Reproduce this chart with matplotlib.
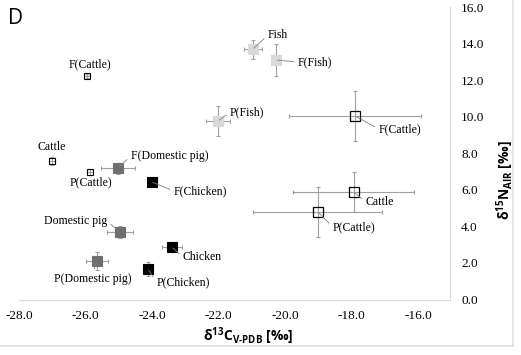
import matplotlib
matplotlib.use('Agg')
import matplotlib.pyplot as plt
from matplotlib.lines import Line2D

# isotope data
labels = ["Fish", "F(Fish)", "P(Fish)", "F(Cattle)", "F(Cattle)", "Cattle", "P(Cattle)",
          "F(Domestic pig)", "F(Chicken)", "Domestic pig", "Chicken", "P(Domestic pig)",
          "P(Chicken)", "Cattle", "P(Cattle)"]
kind = ["fish", "fish", "fish", "cattle_s", "cattle", "cattle_s", "cattle_s",
        "pig", "chicken", "pig", "chicken", "pig", "chicken", "cattle", "cattle"]
d13c = [-20.97, -20.28, -22.02, -25.96, -17.91, -27.01, -25.87,
        -25.03, -24.01, -24.97, -23.41, -25.66, -24.13, -17.94, -19.02]
d13c_err = [0.27, 0.0, 0.36, 0.1, 1.98, 0.1, 0.1,
            0.51, 0.1, 0.39, 0.3, 0.32, 0.1, 1.82, 1.94]
d15n = [13.70, 13.10, 9.76, 12.23, 10.04, 7.58, 6.97,
        7.19, 6.43, 3.69, 2.87, 2.11, 1.67, 5.88, 4.79]
d15n_err = [0.52, 0.85, 0.82, 0.1, 1.37, 0.2, 0.15,
            0.3, 0.1, 0.35, 0.15, 0.49, 0.4, 1.12, 1.37]

xticks = [-28, -26, -24, -22, -20, -18, -16]
yticks = [0, 2, 4, 6, 8, 10, 12, 14, 16]

# label placement (pixel offsets from the point), alignment, leader line start
lab_pos = [(15, 14, 'left', (0, 0.5)), (22, -2, 'left', (0, 0.5)), (12, 9, 'left', (0, 0.5)),
           (3, 12, 'center', None), (24, -13, 'left', (0, 0.5)), (0, 14, 'center', None),
           (1, -10, 'center', None), (13, 12, 'left', (0, 0.5)), (22, -9, 'left', (0, 0.5)),
           (-13, 11, 'right', (1, 0.5)), (11, -10, 'left', (0, 0.5)), (-4, -18, 'center', (0.5, 1)),
           (9, -13, 'left', (0, 0.5)), (12, -10, 'left', (0, 0.5)), (15, -15, 'left', (0, 0.5))]

styles = {
    "fish": dict(mfc='#d9d9d9', mec='#d9d9d9', ms=6.5, mew=0.8),
    "cattle": dict(mfc='none', mec='black', ms=6.5, mew=0.9),
    "cattle_s": dict(mfc='none', mec='black', ms=5, mew=0.8),
    "pig": dict(mfc='#6f6f6f', mec='#6f6f6f', ms=6.5, mew=0.8),
    "chicken": dict(mfc='black', mec='black', ms=6.5, mew=0.8),
}

plt.rcParams['mathtext.fontset'] = 'custom'
plt.rcParams['mathtext.bf'] = 'Open Sans:bold'
plt.rcParams['mathtext.rm'] = 'Open Sans:bold'
plt.rcParams['mathtext.default'] = 'bf'

fig = plt.figure(figsize=(5.21, 3.55), dpi=100)
ax = fig.add_axes([19 / 521, 1 - 299.5 / 355, 431 / 521, 292.5 / 355])

for i in range(len(labels)):
    ax.errorbar(d13c[i], d15n[i], xerr=d13c_err[i], yerr=d15n_err[i], fmt='s',
                ecolor='#a0a0a0', elinewidth=0.8, capsize=1.5, capthick=0.8,
                zorder=3, **styles[kind[i]])
    dx, dy, ha, rp = lab_pos[i]
    arrow = None
    if rp is not None:
        arrow = dict(arrowstyle='-', color='#808080', lw=0.6, shrinkA=1, shrinkB=1, relpos=rp)
    ax.annotate(labels[i], (d13c[i], d15n[i]), xytext=(dx, dy), textcoords='offset pixels',
                ha=ha, va='center', fontsize=8.5, family='Liberation Serif',
                arrowprops=arrow, zorder=4)

ax.set_xlim(-28, -15.05)
ax.set_ylim(0, 16)
ax.set_xticks(xticks)
ax.set_yticks(yticks)
ax.set_xticklabels(['%.1f' % v for v in xticks], family='Liberation Serif', fontsize=9.5)
ax.set_yticklabels(['%.1f' % v for v in yticks], family='Liberation Serif', fontsize=9.5)
ax.yaxis.tick_right()
ax.tick_params(axis='both', length=0)
ax.tick_params(axis='x', pad=7.5)
ax.tick_params(axis='y', pad=8)

for s in ['left', 'top']:
    ax.spines[s].set_visible(False)
for s in ['bottom', 'right']:
    ax.spines[s].set_color('#d9d9d9')
    ax.spines[s].set_linewidth(0.8)

# axis titles placed as figure text
fig.text(248 / 521, 1 - 336 / 355, '$\\delta^{13}C_{V\u2010PDB}$ [‰]', fontsize=10,
         family='Open Sans', fontweight='bold', ha='center', va='center')
fig.text(505 / 521, 1 - 180 / 355, '$\\delta^{15}N_{AIR}$ [‰]', fontsize=10, rotation=90,
         family='Open Sans', fontweight='bold', ha='center', va='center')

fig.text(8 / 521, 1 - 19 / 355, 'D', fontsize=15, family='Open Sans', va='center', ha='left')

# light chart-area border at the bottom and right
fig.add_artist(Line2D([0, 513 / 521], [1 - 346 / 355] * 2, color='#e0e0e0', lw=1.2))
fig.add_artist(Line2D([513 / 521] * 2, [1 - 346 / 355, 1], color='#e0e0e0', lw=1.2))

fig.savefig('out.png', dpi=100)
